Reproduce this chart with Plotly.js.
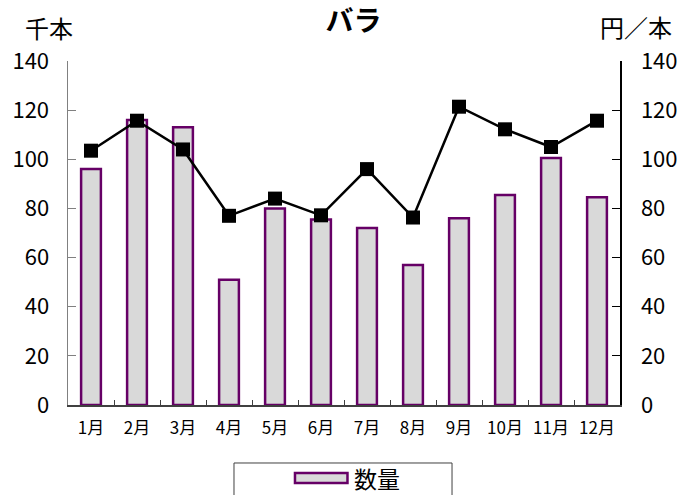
<!DOCTYPE html>
<html>
<head>
<meta charset="utf-8">
<script src="https://cdn.plot.ly/plotly-3.0.1.min.js"></script>
<style>html,body{margin:0;padding:0;background:#fff;}#chart{width:688px;height:495px;}</style>
</head>
<body>
<div id="chart"></div>
<script>
const months = ["1月","2月","3月","4月","5月","6月","7月","8月","9月","10月","11月","12月"];
const quantity = [96, 116, 113, 51, 80, 75.5, 72, 57, 76, 85.5, 100.5, 84.5];
const price = [103.5, 115.7, 104, 77, 84, 77.2, 96, 76.3, 121.4, 112.2, 105, 115.7];
const seriesName = "数量";
const chartTitle = "バラ";
const leftUnit = "千本";
const rightUnit = "円／本";

const FONT = "'Noto Sans CJK JP', 'Noto Sans', sans-serif";

const traces = [
  {
    type: "bar", x: months, y: quantity, name: seriesName,
    marker: {color: "#d9d9d9", line: {color: "#660066", width: 2.5}},
    width: 0.43, showlegend: false
  },
  {
    type: "scatter", mode: "lines+markers", x: months, y: price, yaxis: "y2",
    line: {color: "#000000", width: 2.5},
    marker: {symbol: "square", size: 14, color: "#000000"},
    showlegend: false, name: "単価"
  }
];

const layout = {
  width: 688, height: 495,
  margin: {l: 68, r: 68, t: 61, b: 90, autoexpand: false},
  paper_bgcolor: "#ffffff", plot_bgcolor: "#ffffff",
  font: {family: FONT, color: "#000000"},
  title: {text: "<b>" + chartTitle + "</b>", font: {size: 28, family: FONT}, x: 0.514, xanchor: "center", y: 0.958, yanchor: "middle"},
  xaxis: {
    type: "category", range: [-0.5, months.length - 0.5], showgrid: false, zeroline: false,
    showline: true, linecolor: "#404040", linewidth: 1.5,
    ticks: "inside", ticklen: 5, tickcolor: "#404040", tickson: "boundaries",
    tickfont: {size: 17, family: FONT}, ticklabelstandoff: 7, fixedrange: true
  },
  yaxis: {
    range: [0, 140], dtick: 20, showgrid: false, zeroline: false,
    showline: true, linecolor: "#808080", linewidth: 1.5,
    ticks: "inside", ticklen: 8, tickcolor: "#808080",
    tickfont: {size: 22, family: FONT}, ticklabelstandoff: 13
  },
  yaxis2: {
    range: [0, 140], dtick: 20, overlaying: "y", side: "right",
    showgrid: false, zeroline: false,
    showline: true, linecolor: "#000000", linewidth: 1.5,
    ticks: "inside", ticklen: 8, tickcolor: "#000000",
    tickfont: {size: 22, family: FONT}, ticklabelstandoff: 15
  },
  bargap: 0.57,
  showlegend: false,
  shapes: [
    {type: "rect", xref: "paper", yref: "paper", x0: 0.3007, x1: 0.6957, y0: -0.1686, y1: -0.29,
     line: {color: "#404040", width: 1}, fillcolor: "rgba(0,0,0,0)"},
    {type: "rect", xref: "paper", yref: "paper", x0: 0.4112, x1: 0.5063, y0: -0.1977, y1: -0.2267,
     line: {color: "#660066", width: 2.5}, fillcolor: "#d9d9d9"}
  ],
  annotations: [
    {text: seriesName, xref: "paper", yref: "paper", x: 0.5145, y: -0.2122, xanchor: "left", yanchor: "middle", showarrow: false, font: {size: 23, family: FONT}},
    {text: leftUnit, xref: "paper", yref: "paper", x: -0.034, y: 1.096, xanchor: "center", yanchor: "middle", showarrow: false, font: {size: 24, family: FONT}},
    {text: rightUnit, xref: "paper", yref: "paper", x: 1.029, y: 1.1, xanchor: "center", yanchor: "middle", showarrow: false, font: {size: 24, family: FONT}}
  ]
};

Plotly.newPlot("chart", traces, layout, {displayModeBar: false, staticPlot: true});
</script>
</body>
</html>
